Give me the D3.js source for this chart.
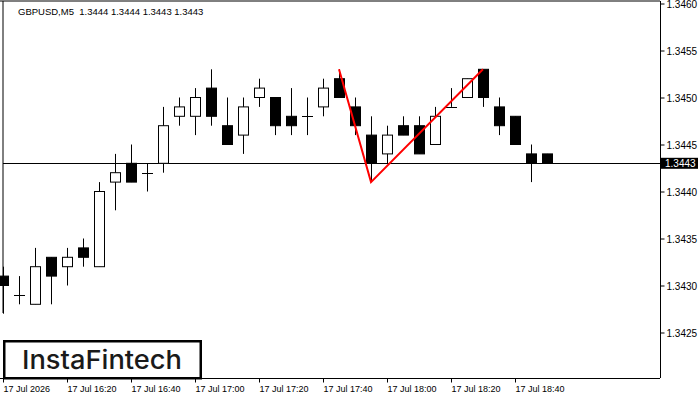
<!DOCTYPE html>
<html>
<head>
<meta charset="utf-8">
<script src="https://cdn.jsdelivr.net/npm/d3@7"></script>
<style>
  body { margin: 0; background: #fff; }
  svg { display: block; }
</style>
</head>
<body>
<script>
// GBPUSD M5 candles, 17 Jul 2026
const candleTimes = ["16:00","16:05","16:10","16:15","16:20","16:25","16:30","16:35","16:40","16:45",
  "16:50","16:55","17:00","17:05","17:10","17:15","17:20","17:25","17:30","17:35",
  "17:40","17:45","17:50","17:55","18:00","18:05","18:10","18:15","18:20","18:25",
  "18:30","18:35","18:40","18:45","18:50"];
const opens  = [1.3431,1.3429,1.3428,1.3433,1.3432,1.3434,1.3432,1.3441,1.3443,1.3442,
  1.3443,1.3448,1.3448,1.3451,1.3447,1.3446,1.3450,1.3450,1.3448,1.3448,
  1.3449,1.3452,1.3449,1.3446,1.3444,1.3447,1.3447,1.3445,1.3449,1.3450,
  1.3453,1.3449,1.3448,1.3444,1.3444];
const highs  = [1.3432,1.3431,1.3434,1.3433,1.3434,1.3435,1.3441,1.3444,1.3445,1.3443,
  1.3449,1.3450,1.3451,1.3453,1.3450,1.3450,1.3452,1.3450,1.3451,1.3450,
  1.3452,1.3453,1.3450,1.3448,1.3447,1.3448,1.3448,1.3449,1.3451,1.3452,
  1.3453,1.3450,1.3448,1.3445,1.3444];
const lows   = [1.3427,1.3428,1.3428,1.3428,1.3430,1.3432,1.3432,1.3438,1.3441,1.3440,
  1.3442,1.3447,1.3446,1.3447,1.3445,1.3444,1.3449,1.3446,1.3446,1.3446,
  1.3448,1.3450,1.3446,1.3441,1.3443,1.3446,1.3444,1.3445,1.3449,1.3450,
  1.3449,1.3446,1.3445,1.3441,1.3443];
const closes = [1.3430,1.3429,1.3432,1.3431,1.3433,1.3433,1.3440,1.3442,1.3441,1.3442,
  1.3447,1.3449,1.3450,1.3448,1.3445,1.3449,1.3451,1.3447,1.3447,1.3448,
  1.3451,1.3450,1.3447,1.3443,1.3446,1.3446,1.3444,1.3448,1.3449,1.3452,
  1.3450,1.3447,1.3445,1.3443,1.3443];

// double top/bottom pattern line
const patternTimes  = ["17:45","17:55","18:30"];
const patternValues = [1.3453,1.3441,1.3453];

const currentPrice = 1.3443;
const titleText = "GBPUSD,M5  1.3444 1.3444 1.3443 1.3443";

const xTickTimes  = ["16:00","16:20","16:40","17:00","17:20","17:40","18:00","18:20","18:40"];
const xTickLabels = ["17 Jul 2026","17 Jul 16:20","17 Jul 16:40","17 Jul 17:00","17 Jul 17:20",
  "17 Jul 17:40","17 Jul 18:00","17 Jul 18:20","17 Jul 18:40"];
const yTickValues = [1.3425,1.3430,1.3435,1.3440,1.3445,1.3450,1.3455,1.3460];

const width = 700;
const height = 400;
const plot = {left: 3, right: 660, top: 1, bottom: 378};
const candleStep = 16; // px per 5 minutes

const parseTime = d3.timeParse("%Y-%m-%d %H:%M");
const t = s => parseTime("2026-07-17 " + s);

let candles = [];
for (let i = 0; i < candleTimes.length; i++) {
    candles.push({time: t(candleTimes[i]), open: opens[i], high: highs[i], low: lows[i], close: closes[i]});
}

const svg = d3.select("body").append("svg")
    .attr("width", width)
    .attr("height", height)
    .style("font-family", "'Liberation Sans', Arial, sans-serif");

const start = t("16:00");
const end = new Date(start.getTime() + (plot.right - plot.left) / candleStep * 5 * 60000);

const x = d3.scaleTime()
    .domain([start, end])
    .range([plot.left, plot.right]);

const y = d3.scaleLinear()
    .domain([1.3460 - (plot.bottom - 3.5) / 94000, 1.3460])
    .range([plot.bottom, 3.5]);

// frame
svg.append("line").attr("x1", 0).attr("x2", plot.right).attr("y1", plot.top).attr("y2", plot.top)
    .attr("stroke", "#000");
svg.append("line").attr("x1", plot.right + 0.5).attr("x2", plot.right + 0.5).attr("y1", plot.top).attr("y2", plot.bottom)
    .attr("stroke", "#000");
svg.append("line").attr("x1", plot.left).attr("x2", plot.left).attr("y1", plot.top).attr("y2", 313)
    .attr("stroke", "#000");

// current price line
svg.append("line")
    .attr("x1", plot.left).attr("x2", plot.right)
    .attr("y1", Math.round(y(currentPrice)) + 0.5).attr("y2", Math.round(y(currentPrice)) + 0.5)
    .attr("stroke", "#000");

const chart = svg.append("g");

const cs = chart.selectAll("g.candle")
    .data(candles)
    .enter()
    .append("g")
    .attr("class", "candle");

cs.append("line")
    .attr("x1", d => Math.round(x(d.time)) + 0.5)
    .attr("x2", d => Math.round(x(d.time)) + 0.5)
    .attr("y1", d => y(d.high))
    .attr("y2", d => y(d.low))
    .attr("stroke", "#000");

cs.each(function (d) {
    const g = d3.select(this);
    const cx = Math.round(x(d.time));
    if (d.open === d.close) {
        g.append("line")
            .attr("x1", cx - 5).attr("x2", cx + 6)
            .attr("y1", Math.round(y(d.open)) + 0.5).attr("y2", Math.round(y(d.open)) + 0.5)
            .attr("stroke", "#000");
    } else {
        const top = y(Math.max(d.open, d.close));
        const bot = y(Math.min(d.open, d.close));
        g.append("rect")
            .attr("x", cx - 4.5)
            .attr("y", top)
            .attr("width", 10)
            .attr("height", bot - top)
            .attr("fill", d.close > d.open ? "#fff" : "#000")
            .attr("stroke", "#000");
    }
});

// pattern line
const pattern = patternTimes.map((s, i) => ({time: t(s), value: patternValues[i]}));
chart.append("path")
    .datum(pattern)
    .attr("fill", "none")
    .attr("stroke", "#ff0000")
    .attr("stroke-width", 2)
    .attr("d", d3.line().x(d => x(d.time)).y(d => y(d.value)));

// y axis
const yAxis = d3.axisRight(y)
    .tickValues(yTickValues)
    .tickSize(4)
    .tickPadding(2)
    .tickFormat(d3.format(".4f"));
const yg = svg.append("g")
    .attr("transform", "translate(" + (plot.right + 0.5) + ",0)")
    .call(yAxis);
yg.select(".domain").remove();
yg.selectAll("text")
    .attr("dy", "0.38em")
    .style("font-size", "10px")
    .style("font-family", "'Liberation Sans', Arial, sans-serif")
    .attr("fill", "#000");

// current price tag
svg.append("rect")
    .attr("x", plot.right + 1).attr("y", y(currentPrice) - 5.5)
    .attr("width", 37).attr("height", 11)
    .attr("fill", "#000");
svg.append("text")
    .attr("x", plot.right + 5).attr("y", y(currentPrice) + 3.8)
    .attr("fill", "#fff")
    .style("font-size", "10px")
    .text(d3.format(".4f")(currentPrice));

// x axis
const xAxis = d3.axisBottom(x)
    .tickValues(xTickTimes.map(t))
    .tickSize(4)
    .tickPadding(3)
    .tickFormat((d, i) => xTickLabels[i]);
const xg = svg.append("g")
    .attr("transform", "translate(0," + (plot.bottom + 0.5) + ")")
    .call(xAxis);
xg.select(".domain").remove();
xg.selectAll("text")
    .attr("text-anchor", "start")
    .attr("x", 0)
    .style("font-size", "9px")
    .style("font-family", "'Liberation Sans', Arial, sans-serif")
    .attr("fill", "#000");
svg.append("line").attr("x1", 0).attr("x2", plot.right).attr("y1", plot.bottom + 0.5).attr("y2", plot.bottom + 0.5)
    .attr("stroke", "#000");

// title
svg.append("text")
    .attr("x", 18).attr("y", 15)
    .style("font-size", "9.5px")
    .attr("fill", "#000")
    .attr("xml:space", "preserve")
    .style("white-space", "pre")
    .text(titleText);

// logo
svg.append("rect")
    .attr("x", 4.25).attr("y", 341.25)
    .attr("width", 196.5).attr("height", 37)
    .attr("fill", "#fff")
    .attr("stroke", "#000")
    .attr("stroke-width", 2.5);
svg.append("text")
    .attr("x", 22).attr("y", 368.5)
    .attr("textLength", 160)
    .attr("lengthAdjust", "spacingAndGlyphs")
    .style("font-family", "Inter, Lato, sans-serif")
    .style("font-weight", 500)
    .style("font-size", "26px")
    .attr("fill", "#1a1a1a")
    .text("InstaFintech");
</script>
</body>
</html>
